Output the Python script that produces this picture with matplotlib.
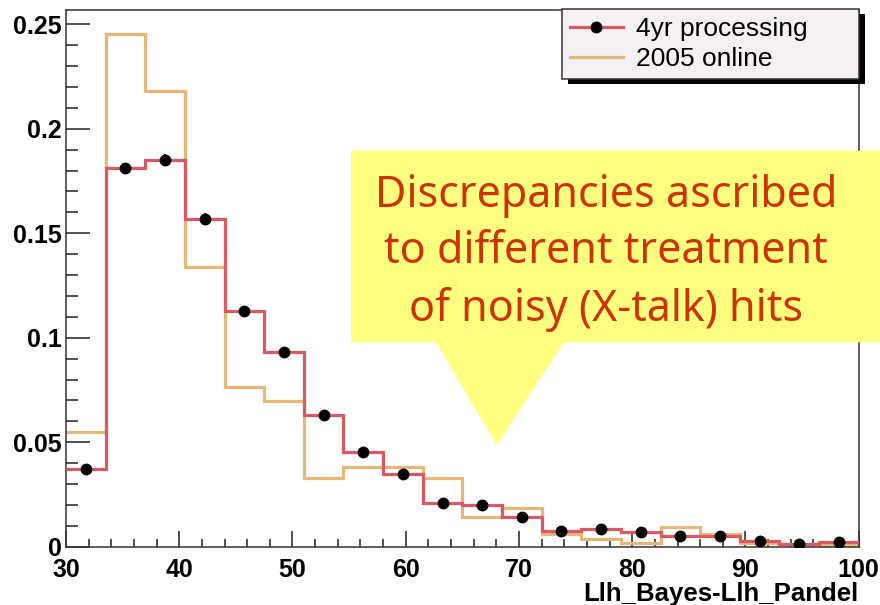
import numpy as np
import matplotlib
matplotlib.use("Agg")
import matplotlib.pyplot as plt
from matplotlib.patches import Polygon, Rectangle
from matplotlib.lines import Line2D

# ---- data ----
bin_edges = np.linspace(30, 100, 21)
proc_4yr = [0.037, 0.181, 0.185, 0.157, 0.113, 0.093, 0.063, 0.0455, 0.035, 0.021,
            0.020, 0.014, 0.0077, 0.0085, 0.0072, 0.0053, 0.0053, 0.0027, 0.0013, 0.0021]
proc_err = [0.0015, 0.0028, 0.0028, 0.0026, 0.0022, 0.002, 0.0017, 0.0015, 0.0013, 0.001,
            0.001, 0.0009, 0.0007, 0.0007, 0.0006, 0.0005, 0.0005, 0.0004, 0.0003, 0.0003]
online_2005 = [0.0547, 0.2452, 0.218, 0.134, 0.0766, 0.0699, 0.0327, 0.038, 0.038, 0.033,
               0.0144, 0.0187, 0.0059, 0.0037, 0.0016, 0.0094, 0.0059, 0.0016, 0.0013, 0.0008]
series_labels = ["4yr processing", "2005 online"]
x_label = "Llh_Bayes-Llh_Pandel"
callout_text = "Discrepancies ascribed\nto different treatment\nof noisy (X-talk) hits"

RED = "#d95a64"
ORANGE = "#e4b878"
W, H = 880, 605

fig = plt.figure(figsize=(W / 100, H / 100), dpi=100)
ax = fig.add_axes([66 / W, 1 - 546.7 / H, (858.7 - 66) / W, (546.7 - 10) / H])

centers = 0.5 * (bin_edges[:-1] + bin_edges[1:])
ax.stairs(online_2005, bin_edges, baseline=None, color=ORANGE, lw=2.3, zorder=2)
ax.stairs(proc_4yr, bin_edges, baseline=None, color=RED, lw=2.3, zorder=3)
ax.errorbar(centers, proc_4yr, yerr=proc_err, fmt='o', color='black', ms=7.5,
            elinewidth=1.2, capsize=0, zorder=4)

ax.set_xlim(30, 100)
ax.set_ylim(0, 0.2568)
ax.set_xticks([30, 40, 50, 60, 70, 80, 90, 100])
ax.set_xticks(np.arange(30, 101, 2), minor=True)
ax.set_yticks([0, 0.05, 0.1, 0.15, 0.2, 0.25])
ax.set_yticklabels(["0", "0.05", "0.1", "0.15", "0.2", "0.25"])
ax.set_yticks(np.arange(0, 0.2568, 0.01), minor=True)

for lab in ax.get_xticklabels() + ax.get_yticklabels():
    lab.set_fontfamily("Liberation Sans")
    lab.set_fontweight("bold")
    lab.set_fontsize(18)

ax.tick_params(axis='y', which='major', direction='in', length=17.5, width=1.1, pad=3,
               color='#222222', right=False)
ax.tick_params(axis='y', which='minor', direction='in', length=8.5, width=1.1, right=False,
               color='#222222')
ax.tick_params(axis='x', which='major', direction='in', length=11.5, width=1.1, pad=8,
               color='#222222', top=False)
ax.tick_params(axis='x', which='minor', direction='in', length=5.8, width=1.1, top=False,
               color='#222222')
for s in ax.spines.values():
    s.set_linewidth(1.1)
    s.set_color('#333333')

ax.set_xlabel(x_label, fontfamily="Liberation Sans", fontweight="bold", fontsize=18.5,
              loc='right', labelpad=0)

# legend
handles = [Line2D([], [], color=RED, lw=2.3, marker='o', mfc='black', mec='black', ms=7.5),
           Line2D([], [], color=ORANGE, lw=2.3)]
lx0 = (562 - 66) / (858.7 - 66)
lw_ = (858.7 - 562) / (858.7 - 66)
leg = ax.legend(handles, series_labels, loc='upper right',
                bbox_to_anchor=(lx0, 0.5, lw_, 0.5015), mode='expand',
                borderaxespad=0, fancybox=False, framealpha=1, edgecolor='#333333',
                facecolor='#f5f0f4', prop=dict(family="Liberation Sans", size=19),
                handlelength=2.0, handletextpad=0.5, labelspacing=0.22, borderpad=0.3)
leg.get_frame().set_linewidth(1.1)
leg.set_zorder(10)

fig.canvas.draw()
bb = leg.get_window_extent().transformed(ax.transAxes.inverted())
dx = 6 / (ax.bbox.width)
dy = 5 / (ax.bbox.height)
ax.add_patch(Rectangle((bb.x0 + dx, bb.y0 - dy), bb.width, bb.height, transform=ax.transAxes,
                       facecolor='black', edgecolor='none', zorder=9.5, clip_on=False))

# callout
def fp(x, y):
    return (x / W, 1 - y / H)

pts = [fp(351, 150.7), fp(880, 150.7), fp(880, 342.3), fp(564, 342.3), fp(496.7, 445),
       fp(436, 342.3), fp(351, 342.3)]
fig.patches.append(Polygon(pts, closed=True, transform=fig.transFigure,
                           facecolor='#ffff80', edgecolor='none', zorder=5))
fig.text(606 / W, 1 - 253 / H, callout_text, ha='center', va='center', color='#cc3300',
         fontfamily="Noto Sans", fontsize=31, linespacing=1.38, zorder=6)

fig.savefig("out.png", dpi=100)
